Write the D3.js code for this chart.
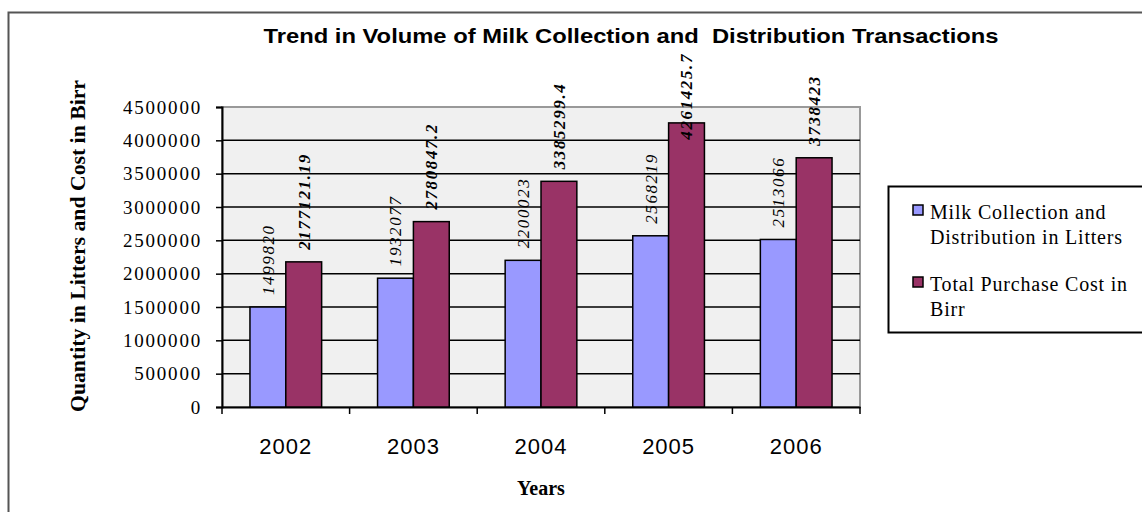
<!DOCTYPE html>
<html>
<head>
<meta charset="utf-8">
<script src="https://cdn.jsdelivr.net/npm/d3@7"></script>
<style>
  body { margin: 0; background: #fff; }
  svg { display: block; }
</style>
</head>
<body>
<div id="chart"></div>
<script>
// Data
const years = ["2002", "2003", "2004", "2005", "2006"];
const seriesNames = ["Milk Collection and Distribution in Litters", "Total Purchase Cost in Birr"];
const litters = [1499820, 1932077, 2200023, 2568219, 2513066];
const cost = [2177121.19, 2780847.2, 3385299.4, 4261425.7, 3738423];
const labelText = [
  ["1499820", "1932077", "2200023", "2568219", "2513066"],
  ["2177121.19", "2780847.2", "3385299.4", "4261425.7", "3738423"]
];
const yTicks = [0, 500000, 1000000, 1500000, 2000000, 2500000, 3000000, 3500000, 4000000, 4500000];

const colors = ["#9999FF", "#993366"];

const WIDTH = 1142;
const HEIGHT = 512;
const plot = { left: 222, top: 107, right: 860, bottom: 407 };

const svg = d3.select("#chart")
  .append("svg")
  .attr("width", WIDTH)
  .attr("height", HEIGHT);

// outer chart frame (right/bottom edges run off the picture)
svg.append("rect")
  .attr("x", 8.5).attr("y", 12.5)
  .attr("width", WIDTH + 20).attr("height", HEIGHT + 20)
  .attr("fill", "none")
  .attr("stroke", "#555")
  .attr("stroke-width", 2);

// scales
const x0 = d3.scaleBand()
  .domain(years)
  .range([plot.left, plot.right])
  .padding(0);

const x1 = d3.scaleBand()
  .domain([0, 1])
  .range([0, x0.bandwidth()])
  .paddingInner(0)
  .paddingOuter(0.78);

const y = d3.scaleLinear()
  .domain([0, 4500000])
  .range([plot.bottom, plot.top]);

// plot area background
svg.append("rect")
  .attr("x", plot.left).attr("y", plot.top)
  .attr("width", plot.right - plot.left)
  .attr("height", plot.bottom - plot.top)
  .attr("fill", "#f0f0f0")
  .attr("stroke", "#999")
  .attr("stroke-width", 2);

// gridlines
svg.append("g")
  .selectAll("line")
  .data(yTicks.filter((d) => d > 0 && d < 4500000))
  .enter()
  .append("line")
  .attr("x1", plot.left).attr("x2", plot.right)
  .attr("y1", (d) => y(d)).attr("y2", (d) => y(d))
  .attr("stroke", "#000")
  .attr("stroke-width", 1.5);

// y axis
const yAxis = svg.append("g")
  .attr("transform", `translate(${plot.left}, 0)`)
  .call(d3.axisLeft(y).tickValues(yTicks).tickSize(6).tickPadding(14).tickFormat(d3.format("d")));
yAxis.select(".domain").attr("stroke", "#000").attr("stroke-width", 2);
yAxis.selectAll(".tick line").attr("stroke", "#000").attr("stroke-width", 1.5);
yAxis.selectAll(".tick text")
  .attr("font-family", "'Liberation Serif', 'Times New Roman', serif")
  .attr("font-size", "19px")
  .attr("letter-spacing", "1.8px")
  .attr("fill", "#000");

// x axis
const xAxis = svg.append("g")
  .attr("transform", `translate(0, ${plot.bottom})`)
  .call(d3.axisBottom(x0).tickSize(0).tickPadding(31));
xAxis.select(".domain").attr("stroke", "#000").attr("stroke-width", 2);
xAxis.selectAll(".tick text")
  .attr("font-family", "'Liberation Sans', Arial, sans-serif")
  .attr("font-size", "22px")
  .attr("letter-spacing", "1px")
  .attr("fill", "#000");
// category separator ticks
xAxis.append("g")
  .selectAll("line")
  .data(years.concat(["end"]))
  .enter()
  .append("line")
  .attr("x1", (d, i) => i < years.length ? x0(d) : plot.right)
  .attr("x2", (d, i) => i < years.length ? x0(d) : plot.right)
  .attr("y1", 0).attr("y2", 7)
  .attr("stroke", "#000")
  .attr("stroke-width", 1.5);

// bars
const rows = years.map((yr, i) => ({ year: yr, values: [litters[i], cost[i]] }));

const groups = svg.append("g")
  .selectAll("g")
  .data(rows)
  .enter()
  .append("g")
  .attr("transform", (d) => `translate(${x0(d.year)}, 0)`);

groups.selectAll("rect")
  .data((d) => d.values.map((v, k) => ({ k: k, v: v })))
  .enter()
  .append("rect")
  .attr("x", (d) => x1(d.k))
  .attr("y", (d) => y(d.v))
  .attr("width", x1.bandwidth())
  .attr("height", (d) => y(0) - y(d.v))
  .attr("fill", (d) => colors[d.k])
  .attr("stroke", "#000")
  .attr("stroke-width", 1.5);

// value labels, rotated
groups.each(function (d, i) {
  const g = d3.select(this);
  d.values.forEach((v, k) => {
    const cx = x1(k) + x1.bandwidth() / 2 + 2;
    const t = g.append("text")
      .attr("font-family", "'Liberation Serif', 'Times New Roman', serif")
      .attr("font-style", "italic")
      .attr("font-weight", k === 1 ? "bold" : "normal")
      .attr("font-size", "17px")
      .attr("letter-spacing", "1.6px")
      .attr("fill", "#000")
      .attr("dominant-baseline", "middle")
      .text(labelText[k][i]);
    const len = t.node().getComputedTextLength();
    // keep label inside the chart area: push it down onto the bar when it would run past the top
    const base = Math.max(y(v) - 12, 53 + len);
    t.attr("transform", `translate(${cx}, ${base}) rotate(-90)`);
  });
});

// title
svg.append("text")
  .attr("x", 631)
  .attr("y", 43)
  .attr("text-anchor", "middle")
  .attr("font-family", "'Liberation Sans', Arial, sans-serif")
  .attr("font-weight", "bold")
  .attr("font-size", "21px")
  .attr("textLength", 735)
  .attr("lengthAdjust", "spacingAndGlyphs")
  .style("white-space", "pre")
  .text("Trend in Volume of Milk Collection and  Distribution Transactions");

// axis titles
svg.append("text")
  .attr("transform", "rotate(-90)")
  .attr("x", -(80 + 412) / 2)
  .attr("y", 85)
  .attr("text-anchor", "middle")
  .attr("font-family", "'Liberation Serif', 'Times New Roman', serif")
  .attr("font-weight", "bold")
  .attr("font-size", "20px")
  .attr("textLength", 332)
  .attr("lengthAdjust", "spacingAndGlyphs")
  .text("Quantity in Litters and Cost in Birr");

svg.append("text")
  .attr("x", 541)
  .attr("y", 495)
  .attr("text-anchor", "middle")
  .attr("font-family", "'Liberation Serif', 'Times New Roman', serif")
  .attr("font-weight", "bold")
  .attr("font-size", "20px")
  .text("Years");

// legend
const legend = svg.append("g");
legend.append("rect")
  .attr("x", 888.5).attr("y", 186.5)
  .attr("width", 300).attr("height", 146)
  .attr("fill", "#fff")
  .attr("stroke", "#000")
  .attr("stroke-width", 2);

const legendLines = [
  ["Milk Collection and", "Distribution in Litters"],
  ["Total Purchase Cost in", "Birr"]
];
legendLines.forEach((lines, k) => {
  const top = 205 + k * 72;
  legend.append("rect")
    .attr("x", 913).attr("y", top)
    .attr("width", 10).attr("height", 10)
    .attr("fill", colors[k])
    .attr("stroke", "#000")
    .attr("stroke-width", 1.5);
  lines.forEach((ln, j) => {
    legend.append("text")
      .attr("x", 930)
      .attr("y", top + 14 + j * 25)
      .attr("font-family", "'Liberation Serif', 'Times New Roman', serif")
      .attr("font-size", "20px")
      .attr("letter-spacing", "0.8px")
      .attr("fill", "#000")
      .text(ln);
  });
});
</script>
</body>
</html>
